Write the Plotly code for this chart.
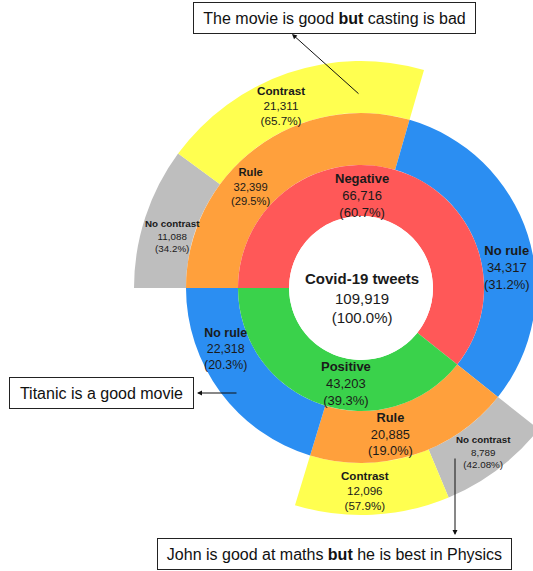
import plotly.graph_objects as go

# ---------------- data ----------------
root_label = "Covid-19 tweets"
root_value = 109919
root_pct = "100.0%"

sentiment_labels = ["Negative", "Positive"]
sentiment_values = [66716, 43203]
sentiment_pct = ["60.7%", "39.3%"]

rule_labels = ["Rule", "No rule"]
rule_values = {"Negative": [32399, 34317], "Positive": [20885, 22318]}
rule_pct = {"Negative": ["29.5%", "31.2%"], "Positive": ["19.0%", "20.3%"]}

contrast_labels = ["No contrast", "Contrast"]
contrast_values = {"Negative": [11088, 21311], "Positive": [8789, 12096]}
contrast_pct = {"Negative": ["34.2%", "65.7%"], "Positive": ["42.08%", "57.9%"]}

callouts = [
    "The movie is good <b>but</b> casting is bad",
    "Titanic is a good movie",
    "John is good at maths <b>but</b> he is best in Physics",
]

# ---------------- style ----------------
C_RED, C_GREEN = "#FF5858", "#3AD24B"
C_ORANGE, C_BLUE = "#FFA03C", "#2B8EF2"
C_YELLOW, C_GRAY = "#FFFF50", "#BEBEBE"
FONT = "Arial, Liberation Sans, Helvetica, sans-serif"
TXT = "#1a1a1a"

W, H = 600, 571
CX, CY = 361, 288          # centre of the rings in px
R0, R1, R2, R3 = 72, 123, 175, 227

# label placement (px centre of text block) and font size, keyed by node path
label_style = {
    "root": (362, 298, 15),
    "Negative": (362, 195, 13),
    "Positive": (346, 383, 13),
    "Negative/Rule": (250, 186, 11.2),
    "Negative/No rule": (507, 267, 13),
    "Positive/Rule": (391, 434, 12.8),
    "Positive/No rule": (225, 349, 12.4),
    "Negative/Rule/No contrast": (172, 236, 9.8),
    "Negative/Rule/Contrast": (281, 105, 11.7),
    "Positive/Rule/No contrast": (483, 452, 9.8),
    "Positive/Rule/Contrast": (365, 490, 11.6),
}


def dom(r):
    return dict(x=[(CX - r) / W, (CX + r) / W],
                y=[(H - CY - r) / H, (H - CY + r) / H])


def px(x):
    return x / W


def py(y):
    return 1 - y / H


def ring(keys, vals, cols, hole, r):
    return go.Pie(
        labels=keys, values=vals, textinfo="none",
        marker=dict(colors=cols, line=dict(width=0)), sort=False,
        direction="clockwise", rotation=270, hole=hole, domain=dom(r),
        hoverinfo="skip", showlegend=False,
    )


labels_out = []  # (key, label, value, pct)
labels_out.append(("root", root_label, root_value, root_pct))

fig = go.Figure()

# level 3 (outer ring, only children of "Rule")
k3, v3, c3 = [], [], []
for s in sentiment_labels:
    for lab, v, p, col in zip(contrast_labels, contrast_values[s], contrast_pct[s], [C_GRAY, C_YELLOW]):
        key = f"{s}/Rule/{lab}"
        k3.append(key); v3.append(v); c3.append(col)
        labels_out.append((key, lab, v, p))
    k3.append(f"{s}/No rule/blank"); v3.append(rule_values[s][1]); c3.append("rgba(0,0,0,0)")
fig.add_trace(ring(k3, v3, c3, R2 / R3, R3))

# level 2
k2, v2, c2 = [], [], []
for s in sentiment_labels:
    for lab, v, p, col in zip(rule_labels, rule_values[s], rule_pct[s], [C_ORANGE, C_BLUE]):
        key = f"{s}/{lab}"
        k2.append(key); v2.append(v); c2.append(col)
        labels_out.append((key, lab, v, p))
fig.add_trace(ring(k2, v2, c2, R1 / R2, R2))

# level 1
for s, v, p in zip(sentiment_labels, sentiment_values, sentiment_pct):
    labels_out.append((s, s, v, p))
fig.add_trace(ring(sentiment_labels, sentiment_values, [C_RED, C_GREEN], R0 / R1, R1))

# root (centre)
fig.add_trace(ring([root_label], [root_value], ["white"], 0, R0))

ann = []
for key, lab, v, p in labels_out:
    x, y, fs = label_style[key]
    ann.append(dict(
        text=f"<b>{lab}</b><br>{v:,}<br>({p})",
        x=px(x), y=py(y), xref="paper", yref="paper",
        xanchor="center", yanchor="middle", showarrow=False, align="center",
        font=dict(family=FONT, size=fs, color=TXT),
    ))

# ---------------- callouts ----------------
boxes = [  # (centre x, centre y, width, height) in px
    (334.5, 17.5, 281, 30),
    (101.5, 393, 183, 30),
    (334.5, 553.5, 353, 30),
]
arrows = [  # (head x, head y, ax, ay)
    (292, 34, 68, 61),
    (197, 393, 41, 0),
    (455, 535, 0, -78),
]

for t, (bx, by, bw, bh) in zip(callouts, boxes):
    ann.append(dict(
        text=t, x=px(bx), y=py(by), xref="paper", yref="paper",
        xanchor="center", yanchor="middle", showarrow=False,
        width=bw, height=bh, borderpad=0, borderwidth=1, bordercolor="#222",
        bgcolor="white", font=dict(family=FONT, size=16, color="#111"), align="center",
    ))
for hx, hy, ax, ay in arrows:
    ann.append(dict(
        text="", x=px(hx), y=py(hy), xref="paper", yref="paper",
        showarrow=True, ax=ax, ay=ay, axref="pixel", ayref="pixel",
        arrowhead=2, arrowsize=1, arrowwidth=1, arrowcolor="#111",
    ))

fig.update_layout(
    width=W, height=H, margin=dict(l=0, r=0, t=0, b=0),
    paper_bgcolor="white", plot_bgcolor="white",
    annotations=ann, showlegend=False,
)

fig.write_html("out.html")
